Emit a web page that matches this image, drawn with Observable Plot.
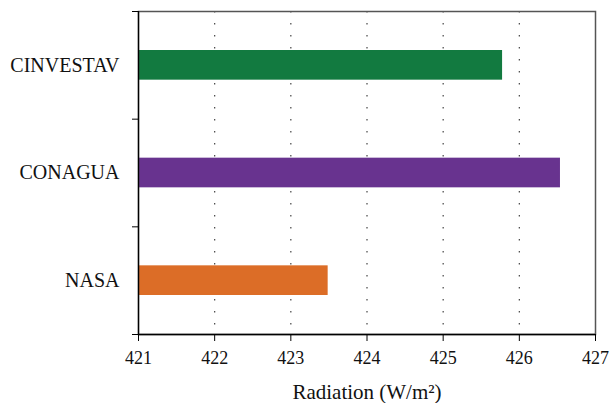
<!DOCTYPE html>
<html>
<head>
<meta charset="utf-8">
<script src="https://cdn.jsdelivr.net/npm/d3@7"></script>
<script src="https://cdn.jsdelivr.net/npm/@observablehq/plot@0.6"></script>
<style>
  html, body { margin: 0; padding: 0; background: #fff; }
</style>
</head>
<body>
<div id="chart"></div>
<script>
const categories = ["CINVESTAV", "CONAGUA", "NASA"];
const values = [425.78, 426.54, 423.49];
const colors = ["#127a40", "#68338f", "#dc6d27"];
const xTicks = [421, 422, 423, 424, 425, 426, 427];
const xLabel = "Radiation (W/m²)";
const serif = "'Liberation Serif', 'Times New Roman', serif";

const n = categories.length;
const data = categories.map((c, i) => ({
  name: c,
  value: values[i],
  lo: n - 1 - i,
  hi: n - i
}));

const chart = Plot.plot({
  width: 610,
  height: 403,
  marginTop: 11,
  marginBottom: 69,
  marginLeft: 138,
  marginRight: 15,
  style: { fontFamily: serif, fontSize: "18px", color: "#111", background: "#fff" },
  x: { domain: [xTicks[0], xTicks[xTicks.length - 1]] },
  y: { domain: [0, n] },
  color: { domain: categories, range: colors },
  marks: [
    Plot.gridX(xTicks.slice(1, -1), { stroke: "#444", strokeOpacity: 1, strokeWidth: 1.2, strokeDasharray: "1.5,10.5" }),
    Plot.rect(data, { x1: () => xTicks[0], x2: "value", y1: "lo", y2: "hi", fill: "name", insetTop: 39, insetBottom: 39 }),
    Plot.frame({ stroke: "#555", strokeWidth: 1.5 }),
    Plot.ruleX([xTicks[0]], { stroke: "#000", strokeWidth: 1.3 }),
    Plot.ruleY([0], { stroke: "#000", strokeWidth: 1.3 }),
    Plot.axisX({
      ticks: xTicks, tickSize: 7, tickPadding: 10, stroke: "#000", fontSize: 18,
      tickFormat: d3.format("d"), label: null
    }),
    Plot.text([xLabel], { frameAnchor: "bottom", lineAnchor: "bottom", dy: 64, fontSize: 21, fill: "#111" }),
    Plot.axisY({ ticks: d3.range(n + 1), tickSize: 6, tickFormat: () => "", stroke: "#000", label: null }),
    Plot.axisY({
      ticks: d3.range(n).map(i => i + 0.5), tickSize: 0, tickPadding: 19, fontSize: 20,
      tickFormat: v => categories[n - 1 - Math.floor(v)], label: null
    })
  ]
});
chart.querySelectorAll("text, g").forEach(el => {
  el.setAttribute("font-family", serif);
  el.style.fontFamily = serif;
});
document.getElementById("chart").appendChild(chart);
</script>
</body>
</html>
